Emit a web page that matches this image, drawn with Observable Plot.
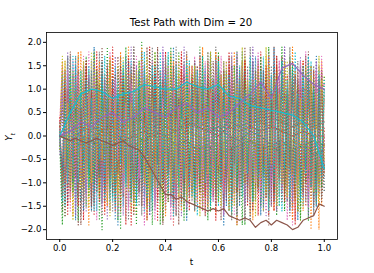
<!DOCTYPE html>
<html>
<head>
<meta charset="utf-8">
<script src="https://cdn.jsdelivr.net/npm/d3@7"></script>
<script src="https://cdn.jsdelivr.net/npm/@observablehq/plot@0.6"></script>
<style>
  html, body { margin: 0; padding: 0; background: #fff; }
  #wrap { position: relative; width: 374px; height: 273px; font-family: "DejaVu Sans", sans-serif; color: #000; }
  #title { position: absolute; left: 0; width: 382px; top: 18px; text-align: center; font-size: 10.2px; line-height: 1; }
  #ylab { position: absolute; left: 10px; top: 137px; transform: translate(-50%, -50%) rotate(-90deg); font-size: 8.8px; white-space: nowrap; }
  #xlab { position: absolute; left: 191.5px; top: 262px; transform: translate(-50%, -50%); font-size: 8.8px; }
  svg { position: absolute; left: 0; top: 0; }
</style>
</head>
<body>
<div id="wrap">
  <div id="title">Test Path with Dim = 20</div>
  <div id="ylab"><i>Y</i><sub style="font-size:6px;font-style:italic">t</sub></div>
  <div id="xlab">t</div>
</div>
<script>
// time grids
const t101 = [0.00,0.01,0.02,0.03,0.04,0.05,0.06,0.07,0.08,0.09,
              0.10,0.11,0.12,0.13,0.14,0.15,0.16,0.17,0.18,0.19,
              0.20,0.21,0.22,0.23,0.24,0.25,0.26,0.27,0.28,0.29,
              0.30,0.31,0.32,0.33,0.34,0.35,0.36,0.37,0.38,0.39,
              0.40,0.41,0.42,0.43,0.44,0.45,0.46,0.47,0.48,0.49,
              0.50,0.51,0.52,0.53,0.54,0.55,0.56,0.57,0.58,0.59,
              0.60,0.61,0.62,0.63,0.64,0.65,0.66,0.67,0.68,0.69,
              0.70,0.71,0.72,0.73,0.74,0.75,0.76,0.77,0.78,0.79,
              0.80,0.81,0.82,0.83,0.84,0.85,0.86,0.87,0.88,0.89,
              0.90,0.91,0.92,0.93,0.94,0.95,0.96,0.97,0.98,0.99,1.00];
const t51 = [0.00,0.02,0.04,0.06,0.08,0.10,0.12,0.14,0.16,0.18,
             0.20,0.22,0.24,0.26,0.28,0.30,0.32,0.34,0.36,0.38,
             0.40,0.42,0.44,0.46,0.48,0.50,0.52,0.54,0.56,0.58,
             0.60,0.62,0.64,0.66,0.68,0.70,0.72,0.74,0.76,0.78,
             0.80,0.82,0.84,0.86,0.88,0.90,0.92,0.94,0.96,0.98,1.00];
const t26 = [0.00,0.04,0.08,0.12,0.16,0.20,0.24,0.28,0.32,0.36,
             0.40,0.44,0.48,0.52,0.56,0.60,0.64,0.68,0.72,0.76,
             0.80,0.84,0.88,0.92,0.96,1.00];

// tick values
const xTicks = [0.0, 0.2, 0.4, 0.6, 0.8, 1.0];
const yTicks = [-2.0, -1.5, -1.0, -0.5, 0.0, 0.5, 1.0, 1.5, 2.0];

// predicted (dotted) paths, 20 dims, on the fine grid
const pred0 = [0.0,1.4,-0.9,1.7,-1.3,0.6,-1.8,1.1,-0.5,1.5, -1.2,0.8,-1.6,1.9,-0.7,1.2,-1.4,0.4,-1.1,1.6, -0.8,1.3,-1.9,0.9,-0.4,1.7,-1.5,1.0,-1.0,1.4, -0.6,1.8,-1.3,0.7,-1.7,1.2,-0.9,1.5,-1.2,0.5, -1.6,1.1,-0.8,1.9,-1.4,0.8,-1.1,1.3,-1.8,1.0, -0.5,1.6,-1.3,0.9,-1.6,1.4,-0.7,1.2,-1.1,1.7, -1.4,0.6,-1.9,1.3,-0.8,1.5,-1.2,1.0,-1.5,1.8, -0.6,1.1,-1.3,1.6,-1.0,0.7,-1.7,1.4,-0.9,1.2, -1.5,1.9,-0.7,1.0,-1.2,1.6,-1.4,0.8,-1.0,1.5, -1.8,1.2,-0.6,1.4,-1.3,0.9,-1.6,1.7,-1.1,1.3, -0.7];
const pred1 = [0.1,-1.3,1.6,-0.7,1.2,-1.7,0.9,-1.0,1.8,-1.4, 0.5,-1.9,1.3,-0.8,1.5,-1.1,0.7,-1.6,1.4,-0.4, 1.7,-1.2,0.8,-1.5,1.1,-0.9,1.9,-1.3,0.6,-1.7, 1.2,-0.8,1.6,-1.4,0.9,-1.1,1.5,-0.6,1.3,-1.8, 0.7,-1.2,1.8,-0.9,1.0,-1.5,1.4,-0.7,1.7,-1.3, 0.8,-1.6,1.1,-1.0,1.9,-0.5,1.2,-1.4,0.9,-1.7, 1.5,-0.8,1.3,-1.2,0.6,-1.5,1.8,-1.0,1.1,-1.3, 1.6,-0.6,0.9,-1.8,1.4,-1.1,1.2,-0.7,1.7,-1.4, 1.0,-1.6,1.5,-0.9,1.3,-1.2,0.8,-1.5,1.9,-0.6, 1.1,-1.3,1.6,-1.0,0.7,-2.0,1.4,-0.8,1.2,-1.5, 0.9];
const pred2 = [-0.1,0.9,-1.7,1.3,-0.6,1.0,-1.4,1.7,-0.3,1.1, -1.5,1.4,-0.9,1.8,-1.2,0.5,-2.0,1.0,-0.6,1.6, -1.3,0.8,-1.8,1.2,-0.5,1.9,-1.0,0.7,-1.4,1.3, -0.8,2.0,-1.2,0.6,-1.6,1.5,-1.1,0.9,-1.9,1.2, -0.4,1.7,-1.5,0.8,-1.2,1.8,-0.6,1.3,-1.7,1.0, -1.1,1.5,-0.7,1.9,-1.3,0.7,-1.8,1.1,-0.9,1.6, -1.4,1.2,-0.5,1.4,-1.6,0.9,-1.2,1.8,-0.8,1.3, -1.9,1.0,-1.1,1.6,-0.7,1.4,-1.5,0.8,-1.3,1.9, -0.6,1.2,-1.7,1.5,-1.0,0.6,-1.4,1.7,-0.9,1.1, -1.6,1.3,-0.8,1.0,-1.8,1.5,-1.2,0.7,-1.0,1.4, -0.2];
const pred3 = [0.2,-1.0,1.4,-1.5,0.8,-0.4,1.7,-1.3,1.0,-1.8, 1.5,-0.7,1.0,-1.4,1.8,-0.9,1.3,-1.7,0.6,-1.2, 1.9,-0.5,1.4,-1.6,0.9,-1.9,1.1,-0.8,1.6,-1.1, 0.7,-1.5,1.3,-0.7,1.9,-1.2,0.8,-1.8,1.4,-0.6, 1.1,-1.4,0.5,-1.9,1.6,-0.9,1.8,-1.3,0.7,-1.6, 1.2,-1.0,1.5,-0.6,1.0,-1.7,1.3,-1.2,0.9,-1.5, 1.7,-0.8,1.1,-1.4,1.5,-0.5,1.2,-1.9,0.8,-1.1, 1.6,-1.3,0.9,-1.6,1.4,-0.7,1.8,-1.0,1.1,-1.7, 0.6,-1.2,1.5,-0.9,1.7,-1.4,1.0,-0.6,1.3,-1.8, 0.9,-1.1,1.6,-1.5,1.2,-0.8,1.4,-1.3,0.5,-1.0, 0.0];
const pred4 = [-0.2,1.2,-0.8,1.8,-1.1,0.6,-1.7,1.3,-0.6,1.5, -1.2,0.3,-1.5,1.6,-0.6,1.1,-1.3,0.8,-1.8,1.4, -0.8,1.2,-1.5,0.5,-1.1,1.6,-0.7,1.9,-1.4,0.9, -1.2,1.5,-0.5,1.1,-1.7,0.7,-1.3,1.7,-1.0,1.4, -1.6,1.0,-0.6,1.5,-1.1,0.6,-1.7,1.9,-0.9,1.1, -1.3,1.6,-0.8,1.2,-1.5,0.8,-1.0,1.7,-1.4,0.9, -0.7,1.3,-1.6,1.0,-1.2,1.8,-0.6,1.4,-1.1,1.6, -1.5,0.7,-0.9,1.9,-1.3,1.2,-0.8,1.5,-1.7,1.0, -1.0,1.4,-1.4,0.8,-0.6,1.9,-1.2,1.1,-1.6,1.3, -0.9,1.7,-1.1,0.6,-1.5,1.2,-0.7,1.6,-1.3,1.0, -0.8];
const pred5 = [0.0,-1.6,1.0,-0.6,1.8,-1.3,0.7,-1.9,1.2,-0.5, 1.6,-1.1,0.9,-1.5,1.4,-0.8,1.9,-1.2,0.5,-1.6, 1.3,-1.0,1.7,-0.6,1.2,-1.8,0.8,-1.3,1.9,-0.9, 1.4,-1.5,0.6,-1.1,1.8,-0.5,1.3,-1.4,0.9,-1.9, 1.6,-0.7,1.2,-1.5,0.8,-1.9,1.4,-0.8,1.8,-1.1, 0.5,-1.4,1.5,-1.0,1.1,-1.7,0.7,-1.2,1.6,-0.6, 1.3,-1.8,1.0,-0.9,1.7,-1.3,0.6,-1.5,1.4,-1.0, 1.9,-0.7,1.1,-1.6,0.8,-1.2,1.5,-0.9,1.2,-1.9, 1.0,-1.4,1.7,-0.6,1.3,-1.1,0.9,-1.7,1.6,-0.8, 1.2,-1.5,0.7,-1.0,1.8,-1.3,1.1,-0.9,1.5,-1.4, -0.6];
const pred6 = [0.3,1.5,-1.0,0.7,-1.6,1.3,-0.4,1.6,-1.4,0.8, -0.9,1.8,-1.2,0.4,-1.8,1.5,-0.7,1.2,-1.4,1.8, -0.6,1.0,-1.7,1.3,-0.9,1.1,-1.5,0.5,-1.1,1.7, -1.3,0.9,-1.9,1.2,-0.6,1.6,-1.4,1.0,-0.8,1.8, -1.2,0.7,-1.8,1.1,-0.5,1.6,-1.2,0.8,-1.5,1.3, -0.7,1.7,-1.0,0.6,-1.6,1.4,-1.1,0.9,-1.3,1.5, -0.8,1.2,-1.7,1.6,-0.6,1.0,-1.4,1.3,-1.0,0.7, -1.8,1.4,-0.9,1.1,-1.2,1.7,-0.5,1.0,-1.6,1.2, -1.1,0.8,-1.5,1.6,-0.7,1.3,-1.3,0.9,-1.9,1.1, -0.6,1.5,-1.2,1.8,-1.0,0.7,-1.4,1.2,-0.8,1.6, -0.4];
const pred7 = [-0.3,0.8,-1.4,1.7,-0.9,1.3,-0.6,0.9,-1.7,1.5, -0.7,1.1,-1.6,1.2,-0.5,1.8,-1.4,0.7,-1.0,1.5, -1.6,0.4,-1.1,1.7,-0.7,1.3,-1.8,1.4,-0.9,0.6, -1.5,1.7,-0.8,1.3,-1.0,1.9,-1.5,0.6,-1.2,1.6, -0.8,1.4,-1.3,0.6,-1.7,1.2,-0.4,1.6,-1.0,1.5, -1.4,0.8,-1.1,1.8,-0.7,1.3,-1.6,1.0,-0.9,1.9, -1.2,0.7,-1.5,1.4,-1.0,1.2,-0.6,1.7,-1.3,0.9, -1.8,1.5,-0.8,1.1,-1.4,1.6,-1.0,0.6,-1.2,1.8, -0.7,1.3,-1.6,1.0,-1.1,1.4,-0.5,1.9,-1.5,0.8, -1.0,1.6,-1.3,1.2,-0.8,1.0,-1.7,1.4,-0.6,1.1, -0.9];
const pred8 = [0.1,-1.1,1.6,-0.8,1.3,-1.8,1.0,-0.6,1.4,-1.2, 0.7,-1.5,1.8,-1.0,0.9,-1.3,1.6,-0.4,1.2,-1.7, 0.8,-1.2,1.5,-0.9,1.7,-1.1,0.4,-1.6,1.3,-0.7, 1.6,-1.0,0.9,-1.8,1.3,-0.6,1.8,-1.1,0.5,-1.5, 1.2,-0.9,1.7,-0.6,1.4,-1.3,1.0,-1.6,1.1,-0.8, 1.5,-1.2,0.6,-1.7,1.3,-0.9,1.8,-1.4,1.0,-0.7, 1.2,-1.5,1.6,-0.5,1.1,-1.3,0.8,-1.9,1.4,-1.0, 1.7,-0.8,1.0,-1.4,1.5,-1.1,0.7,-1.6,1.9,-0.6, 1.2,-1.0,1.4,-1.5,0.8,-1.2,1.6,-0.7,1.3,-1.4, 1.0,-1.8,1.5,-0.9,1.2,-1.1,0.6,-1.4,1.7,-0.8, 1.3];
const pred9 = [-0.1,1.3,-1.5,1.0,-1.1,1.7,-0.8,1.1,-1.4,0.7, -1.2,1.5,-0.5,1.1,-1.6,0.9,-1.2,1.7,-0.8,1.1, -1.4,1.5,-0.7,1.0,-1.5,1.3,-0.9,1.6,-1.2,1.1, -0.5,1.4,-1.6,1.0,-1.2,1.5,-0.8,1.5,-1.4,0.9, -1.1,1.8,-1.2,1.1,-0.8,1.4,-1.5,1.0,-0.6,1.6, -1.3,0.8,-1.7,1.2,-0.9,1.5,-1.1,1.8,-0.7,1.0, -1.5,1.3,-1.0,0.7,-1.6,1.4,-0.9,1.2,-1.3,1.6, -0.6,1.1,-1.8,1.3,-1.0,0.9,-1.4,1.7,-1.1,1.2, -0.8,1.5,-1.3,1.0,-1.6,1.2,-0.7,1.4,-1.2,1.8, -1.0,0.8,-1.5,1.3,-0.9,1.6,-1.3,1.1,-0.7,1.4, -1.2];
const pred10 = [0.0,-0.7,1.2,-1.4,0.6,-1.0,1.5,-0.4,0.9,-1.6, 1.1,-0.8,1.4,-1.2,0.5,-0.9,1.6,-1.4,0.8,-0.5, 1.2,-1.8,0.9,-0.4,1.4,-1.0,1.6,-0.5,0.8,-1.4, 1.0,-1.2,1.5,-0.4,0.9,-1.6,1.3,-0.6,1.1,-1.0, 1.5,-0.8,0.9,-1.5,1.3,-0.5,0.8,-1.3,1.4,-0.9, 1.1,-1.6,0.7,-1.1,1.5,-0.6,1.2,-1.4,0.8,-1.2, 1.6,-0.7,1.0,-1.5,1.3,-0.9,0.7,-1.7,1.2,-0.5, 1.4,-1.1,0.9,-1.3,1.7,-0.8,1.1,-1.5,0.6,-1.0, 1.3,-1.4,1.0,-0.6,1.6,-1.2,0.8,-1.6,1.4,-0.9, 1.0,-1.3,1.5,-0.7,1.2,-1.1,0.9,-1.5,1.3,-0.8, 1.0];
const pred11 = [0.2,1.6,-1.0,1.1,-1.4,0.5,-0.8,1.8,-1.1,1.3, -0.6,0.8,-1.3,1.0,-0.9,1.6,-0.6,0.9,-1.5,1.7, -0.9,0.6,-1.2,1.8,-0.7,0.5,-1.1,1.3,-1.6,0.8, -0.6,1.9,-1.1,0.6,-1.4,1.2,-0.8,1.4,-0.6,1.1, -1.7,0.5,-1.0,1.6,-0.6,1.3,-1.6,0.7,-1.2,1.5, -0.8,1.0,-1.4,1.7,-0.9,0.6,-1.5,1.2,-1.0,1.8, -0.7,1.3,-1.2,0.9,-1.6,1.4,-0.5,1.1,-1.3,1.6, -1.0,0.8,-1.7,1.2,-0.7,1.5,-1.1,0.9,-1.4,1.7, -0.6,1.2,-1.5,1.0,-0.9,1.6,-1.3,0.7,-1.8,1.4, -1.0,1.1,-1.6,0.8,-1.2,1.5,-0.7,1.3,-2.0,1.6, -0.8];
const pred12 = [-0.2,-1.9,0.8,-0.5,1.5,-1.2,0.6,-1.8,1.2,-0.6, 1.7,-1.3,0.5,-1.0,1.4,-1.8,1.1,-0.7,1.9,-1.1, 0.6,-1.4,1.0,-2.0,1.5,-0.7,1.1,-1.3,0.4,-1.9, 1.6,-0.8,1.1,-1.5,0.6,-1.9,1.8,-0.6,1.2,-1.8, 0.8,-1.4,1.9,-0.8,1.2,-1.1,0.7,-1.8,1.5,-0.6, 1.3,-1.5,0.9,-1.2,1.7,-0.9,1.1,-1.6,0.6,-1.3, 1.8,-1.0,1.4,-0.7,1.0,-1.7,1.5,-1.2,0.8,-1.9, 1.2,-0.6,1.6,-1.4,0.9,-1.1,1.7,-0.8,1.3,-1.5, 0.7,-1.2,1.4,-0.9,1.9,-1.6,1.0,-0.7,1.5,-1.3, 1.1,-1.8,0.8,-1.0,1.6,-0.6,1.2,-1.4,0.9,-1.1, 1.3];
const pred13 = [0.4,-1.3,1.0,-1.7,0.8,-0.5,1.3,-1.5,0.6,-1.1, 1.6,-0.5,1.0,-1.7,0.8,-1.4,0.4,-1.2,1.5,-0.9, 1.0,-1.6,0.7,-1.1,1.3,-0.5,1.7,-1.9,0.6,-1.0, 1.4,-0.8,0.5,-1.8,1.1,-0.7,1.6,-1.3,0.6,-1.1, 1.8,-0.8,0.5,-1.6,1.0,-0.6,1.7,-1.0,0.4,-1.2, 1.5,-0.9,1.1,-1.5,0.7,-1.3,1.6,-0.6,1.2,-1.8, 0.9,-1.1,1.4,-0.7,1.8,-1.4,0.6,-1.2,1.3,-0.9, 1.6,-1.5,0.8,-1.0,1.2,-1.7,1.0,-0.6,1.5,-1.3, 0.9,-1.6,1.7,-1.0,0.6,-1.4,1.3,-0.8,1.1,-1.9, 1.4,-0.7,1.0,-1.3,1.6,-1.1,0.7,-1.5,1.2,-0.9, 0.2];
const pred14 = [-0.4,0.9,-1.2,1.3,-0.6,1.6,-1.5,0.6,-0.9,1.1, -1.6,1.3,-0.7,1.5,-1.0,0.7,-1.5,1.2,-0.5,0.9, -1.1,1.7,-0.8,0.6,-1.7,1.0,-0.5,1.2,-1.0,1.5, -1.0,0.7,-1.5,1.2,-0.6,1.1,-1.6,0.8,-1.3,1.9, -0.5,1.2,-1.5,0.9,-1.3,1.2,-0.9,1.5,-1.6,0.8, -1.1,1.4,-0.7,1.7,-1.2,0.9,-1.4,1.1,-0.8,1.6, -1.3,1.0,-1.7,0.7,-1.0,1.5,-1.2,1.8,-0.6,1.2, -1.4,0.9,-1.1,1.6,-0.7,1.3,-1.5,1.0,-0.9,1.7, -1.2,0.8,-1.6,1.3,-1.1,1.9,-0.7,1.1,-1.4,1.2, -0.8,1.5,-1.3,0.9,-1.7,1.4,-1.0,1.6,-1.2,0.9, -0.3];
const pred15 = [0.2,0.6,-1.7,1.0,-1.2,0.8,-0.9,1.4,-1.9,0.9, -0.6,1.2,-1.5,0.9,-1.2,1.1,-0.9,1.3,-1.0,0.5, -1.2,1.3,-0.8,1.5,-1.3,0.9,-1.0,1.5,-1.7,0.9, -1.2,1.1,-0.9,1.9,-0.8,1.3,-1.0,1.9,-0.5,1.2, -1.3,1.0,-0.7,1.5,-1.7,0.8,-1.4,1.3,-0.7,1.0, -1.2,1.6,-0.9,1.2,-1.5,0.7,-1.1,1.8,-1.3,1.0, -0.8,1.4,-1.6,0.9,-1.2,1.7,-0.6,1.1,-1.4,1.5, -1.0,1.2,-1.8,0.8,-1.1,1.6,-0.9,1.4,-1.3,1.0, -1.5,1.9,-0.7,1.2,-1.4,0.9,-1.1,1.6,-0.8,1.3, -1.6,1.0,-1.2,1.7,-0.9,1.1,-1.5,0.8,-1.0,1.4, -1.2];
const pred16 = [-0.1,1.0,-0.6,1.4,-1.3,0.9,-1.0,1.3,-0.7,1.7, -1.3,0.9,-0.8,1.3,-0.7,1.0,-1.7,0.5,-1.2,1.1, -0.8,1.2,-0.5,1.4,-1.2,0.7,-1.6,1.1,-0.6,1.2, -0.9,1.6,-0.6,1.1,-1.0,0.7,-1.8,1.3,-0.5,0.8, -1.4,1.5,-0.8,1.2,-1.6,0.6,-1.2,1.5,-0.6,1.3, -1.0,0.8,-1.5,1.2,-0.7,1.6,-1.1,0.9,-1.4,1.3, -0.6,1.7,-1.2,1.0,-0.9,1.4,-1.7,0.8,-1.1,1.5, -0.8,1.2,-1.4,0.6,-1.0,1.8,-1.3,1.1,-0.7,1.4, -1.5,0.9,-1.0,1.6,-1.2,0.7,-1.8,1.3,-0.9,1.0, -1.3,1.6,-0.7,1.2,-1.5,0.9,-1.1,1.4,-0.6,1.7, -0.4];
const pred17 = [0.3,-0.8,1.4,-1.1,1.7,-0.8,1.1,-1.3,0.7,-1.4, 1.0,-0.5,1.6,-0.6,1.1,-0.9,1.4,-0.8,1.6,-1.3, 0.5,-0.9,1.4,-1.2,0.9,-0.7,1.3,-1.1,1.9,-0.6, 1.0,-1.7,1.4,-0.8,1.0,-1.4,0.7,-1.0,1.4,-0.7, 1.7,-1.1,1.3,-0.9,1.9,-0.7,1.2,-1.5,1.0,-1.3, 0.8,-1.6,1.4,-0.9,1.1,-1.2,1.8,-0.7,1.3,-1.5, 1.0,-1.0,1.6,-1.3,0.7,-1.8,1.2,-0.6,1.5,-1.1, 0.9,-1.4,1.9,-0.8,1.1,-1.2,1.4,-1.6,0.8,-1.0, 1.5,-0.7,1.2,-1.3,1.7,-0.9,1.0,-1.5,1.3,-0.8, 1.6,-1.2,0.9,-1.4,1.1,-0.6,1.5,-1.1,1.0,-1.3, 0.8];
const pred18 = [-0.3,1.7,-0.6,0.7,-1.1,1.4,-0.4,0.9,-1.1,1.6, -0.9,1.1,-1.0,1.8,-0.6,1.2,-0.5,0.8,-1.4,1.6, -1.0,0.8,-1.5,1.1,-0.8,1.4,-1.2,0.7,-1.5,1.4, -0.5,1.2,-1.0,1.7,-1.2,0.8,-1.1,1.1,-1.6,0.6, -0.9,1.5,-1.2,0.6,-1.0,1.7,-0.8,1.1,-1.4,0.9, -1.3,1.5,-0.7,1.2,-1.6,1.0,-0.8,1.8,-1.1,0.7, -1.4,1.3,-0.9,1.6,-1.2,0.8,-1.5,1.1,-0.7,1.9, -1.0,1.2,-1.3,0.7,-1.7,1.4,-0.9,1.0,-1.2,1.5, -0.6,1.3,-1.5,0.9,-1.0,1.6,-1.3,1.2,-0.8,1.1, -1.6,0.8,-1.1,1.5,-0.7,1.3,-1.2,0.9,-1.5,1.2, -0.5];
const pred19 = [0.1,-1.4,0.7,-1.0,1.3,-0.6,1.7,-1.0,1.4,-0.7, 1.2,-1.1,0.8,-1.6,1.0,-0.5,1.3,-1.3,1.1,-1.4, 0.9,-1.5,1.2,-0.6,1.6,-1.1,0.9,-1.4,1.0,-1.5, 1.4,-0.9,1.8,-1.3,0.8,-1.4,1.5,-1.1,1.8,-0.8, 1.3,-1.2,0.6,-1.7,1.5,-1.2,1.1,-0.9,1.6,-1.1, 1.0,-1.3,1.4,-0.8,1.7,-1.0,0.8,-1.5,1.2,-0.9, 1.6,-1.2,1.1,-0.7,1.3,-1.6,0.9,-1.1,1.5,-1.3, 1.0,-0.8,1.7,-1.4,1.2,-0.9,1.4,-1.2,0.8,-1.6, 1.3,-1.0,1.1,-1.5,1.6,-0.7,1.2,-1.3,1.5,-1.0, 0.9,-1.4,1.3,-0.8,1.7,-1.1,1.0,-1.5,1.4,-0.9, 1.2];

// true (solid) paths on the coarse grid
const trueBlue   = [0.0,-0.1,0.1,0.2,0.1,0.3,0.2,0.4,0.3,0.2, 0.4,0.5,0.3,0.2,0.1,0.2,0.0,-0.1,0.1,0.0, -0.2,-0.1,-0.3,-0.2,-0.4,-0.3];
const trueOrange = [0.0,0.1,0.0,-0.1,0.1,0.2,0.1,0.3,0.4,0.3, 0.5,0.4,0.6,0.5,0.4,0.3,0.5,0.4,0.3,0.3, 0.2,0.1,0.2,0.3,0.2,0.1];
const trueGreen  = [0.0,-0.1,-0.2,-0.1,-0.3,-0.2,-0.1,0.0,-0.1,0.1, 0.0,-0.2,-0.1,-0.3,-0.2,-0.4,-0.3,-0.2,-0.1,-0.3, -0.2,-0.4,-0.3,-0.2,-0.1,-0.2];
const trueRed    = [0.0,0.1,0.2,0.1,0.0,0.1,-0.1,0.0,0.1,0.0, 0.2,0.1,0.3,0.2,0.1,0.0,0.2,0.1,0.2,0.1, 0.2,0.1,0.0,0.1,0.0,0.0];
const truePurple = [0.0,0.1,0.3,0.2,0.4,0.5,0.3,0.4,0.6,0.5, 0.4,0.6,0.7,0.5,0.6,0.4,0.5,0.7,0.9,1.15, 0.8,1.45,1.55,1.3,1.1,1.0];
const truePink   = [0.0,0.2,0.4,0.5,0.6,0.5,0.4,0.5,0.3,0.4, 0.5,0.6,0.4,0.5,0.6,0.5,0.7,0.8,0.6,0.8, 0.9,0.8,0.9,1.0,0.9,1.1];
const trueGray   = [0.0,0.1,0.0,-0.1,-0.2,-0.1,0.0,0.1,0.2,0.1, 0.0,0.1,0.2,0.3,0.2,0.1,0.3,0.2,0.3,0.4, 0.4,0.3,0.2,0.3,0.2,0.3];
const trueOlive  = [0.0,0.0,-0.1,0.0,0.1,0.0,-0.1,-0.2,-0.1,0.0, -0.1,0.0,0.1,0.0,-0.1,-0.2,-0.1,0.0,-0.1,-0.2, -0.3,-0.2,-0.1,-0.2,-0.3,-0.2];
const trueCyan   = [0.0,0.5,0.9,1.0,0.95,0.8,0.9,0.95,1.1,1.05, 1.0,1.0,1.15,1.05,1.0,1.1,0.85,0.8,0.65,0.6, 0.55,0.5,0.45,0.3,0.0,-0.7];
// brown path on the medium grid
const trueBrown  = [0.0,-0.05,-0.1,-0.05,-0.1,-0.15,-0.1,-0.05,-0.1,-0.15,
                    -0.2,-0.15,-0.1,-0.2,-0.25,-0.3,-0.45,-0.65,-0.85,-1.05,
                    -1.25,-1.25,-1.35,-1.3,-1.4,-1.45,-1.5,-1.55,-1.6,-1.55,
                    -1.6,-1.55,-1.7,-1.75,-1.8,-1.75,-1.8,-1.95,-1.85,-1.8,
                    -1.9,-1.8,-1.85,-1.9,-2.0,-1.95,-1.8,-1.75,-1.7,-1.45,-1.5];

// styles
const tab10 = ["#1f77b4","#ff7f0e","#2ca02c","#d62728","#9467bd","#8c564b","#e377c2","#7f7f7f","#bcbd22","#17becf"];

const preds = [pred0,pred1,pred2,pred3,pred4,pred5,pred6,pred7,pred8,pred9,
               pred10,pred11,pred12,pred13,pred14,pred15,pred16,pred17,pred18,pred19];
const solidsUnder = [
  {ts: t26, vs: trueBlue,   c: tab10[0]},
  {ts: t26, vs: trueOrange, c: tab10[1]},
  {ts: t26, vs: trueGreen,  c: tab10[2]},
  {ts: t26, vs: trueRed,    c: tab10[3]},
  {ts: t26, vs: truePink,   c: tab10[6]},
  {ts: t26, vs: trueGray,   c: tab10[7]},
  {ts: t26, vs: trueOlive,  c: tab10[8]}
];
const solidsOver = [
  {ts: t26, vs: trueCyan,   c: tab10[9]},
  {ts: t26, vs: truePurple, c: tab10[4]},
  {ts: t51, vs: trueBrown,  c: tab10[5]}
];

function rows(ts, vs) {
  const out = [];
  for (let i = 0; i < Math.min(ts.length, vs.length); i++) out.push({t: ts[i], v: vs[i]});
  return out;
}

const marks = [];
solidsUnder.forEach(s => {
  marks.push(Plot.line(rows(s.ts, s.vs), {x: "t", y: "v", stroke: s.c, strokeWidth: 1.2}));
});
preds.forEach((p, i) => {
  marks.push(Plot.line(rows(t101, p), {x: "t", y: "v", stroke: tab10[i % 10], strokeWidth: 1.1, strokeDasharray: "1.1,1.9", strokeLinecap: "butt"}));
});
solidsOver.forEach(s => {
  marks.push(Plot.line(rows(s.ts, s.vs), {x: "t", y: "v", stroke: s.c, strokeWidth: 1.2}));
});
marks.push(Plot.frame({stroke: "#000", strokeWidth: 0.8}));

const chart = Plot.plot({
  width: 374,
  height: 273,
  marginLeft: 46,
  marginRight: 37,
  marginTop: 32,
  marginBottom: 34,
  style: {fontFamily: "DejaVu Sans, sans-serif", fontSize: "8.6px", color: "#000", background: "transparent"},
  x: {domain: [-0.05, 1.05], ticks: xTicks, tickFormat: d3.format(".1f"), label: null, tickSize: 3, tickPadding: 2},
  y: {domain: [-2.21, 2.21], ticks: yTicks, tickFormat: d3.format(".1f"), label: null, tickSize: 3, tickPadding: 2},
  marks
});
document.getElementById("wrap").appendChild(chart);
</script>
</body>
</html>
